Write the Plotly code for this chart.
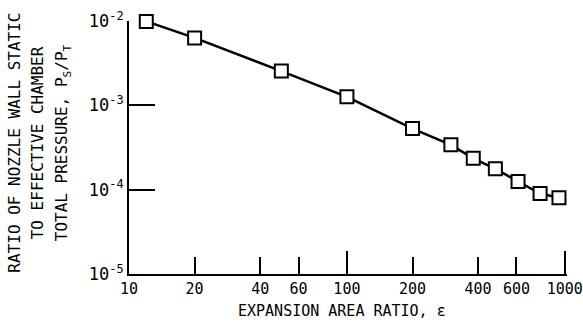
import plotly.graph_objects as go

expansion_ratio = [12, 20, 50, 100, 200, 300, 380, 480, 610, 770, 940]
pressure_ratio = [9.9e-3, 6.3e-3, 2.55e-3, 1.26e-3, 5.3e-4, 3.4e-4, 2.35e-4, 1.77e-4, 1.25e-4, 9.0e-5, 8.0e-5]

x_ticks = [10, 20, 40, 60, 100, 200, 400, 600, 1000]
x_ticklabels = ["10", "20", "40", "60", "100", "200", "400", "600", "1000"]
y_ticks = [1e-5, 1e-4, 1e-3, 1e-2]
y_ticklabels = ["10<sup>-5</sup>", "10<sup>-4</sup>", "10<sup>-3</sup>", "10<sup>-2</sup>"]

y_title_lines = ["RATIO OF NOZZLE WALL STATIC", "TO EFFECTIVE CHAMBER",
                 "TOTAL PRESSURE, P<sub>S</sub>/P<sub>T</sub>"]
x_title = "EXPANSION AREA RATIO, ε"

FONT = "DejaVu Sans Mono, Liberation Mono, monospace"

fig = go.Figure()
fig.add_trace(go.Scatter(
    x=expansion_ratio, y=pressure_ratio, mode="lines+markers",
    line=dict(color="black", width=2.5),
    marker=dict(symbol="square", size=13, color="white", line=dict(color="black", width=2)),
    cliponaxis=False, showlegend=False,
))

annotations = [
    dict(text=x_title, xref="paper", yref="paper",
         x=0.487, y=-0.148, xanchor="center", yanchor="middle", showarrow=False,
         font=dict(family=FONT, size=15)),
]
for xpos, line in zip([-0.261, -0.207, -0.150], y_title_lines):
    annotations.append(dict(text=line, xref="paper", yref="paper", x=xpos, y=0.518,
                            xanchor="center", yanchor="middle", textangle=-90,
                            showarrow=False, font=dict(family=FONT, size=16)))

fig.update_layout(
    width=583, height=323,
    margin=dict(l=129, r=16, t=21, b=49),
    paper_bgcolor="white", plot_bgcolor="white",
    font=dict(family=FONT, color="black", size=15),
    xaxis=dict(
        type="log", range=[0.9999, 3.01], automargin=False,
        tickvals=x_ticks, ticktext=x_ticklabels,
        ticks="inside", ticklen=17, tickwidth=2, tickcolor="black",
        minor=dict(tickvals=[100, 1000], ticks="inside", ticklen=23, tickwidth=2, tickcolor="black"),
        showline=True, linecolor="black", linewidth=2,
        showgrid=False, zeroline=False, ticklabeloverflow="allow",
        tickfont=dict(family=FONT, size=15),
    ),
    yaxis=dict(
        type="log", range=[-5.0001, -1.9999], automargin=False,
        tickvals=y_ticks, ticktext=y_ticklabels,
        ticks="inside", ticklen=26, tickwidth=2, tickcolor="black",
        showline=True, linecolor="black", linewidth=2,
        showgrid=False, zeroline=False,
        tickfont=dict(family=FONT, size=17),
    ),
    annotations=annotations,
)

fig.write_html("out.html")
